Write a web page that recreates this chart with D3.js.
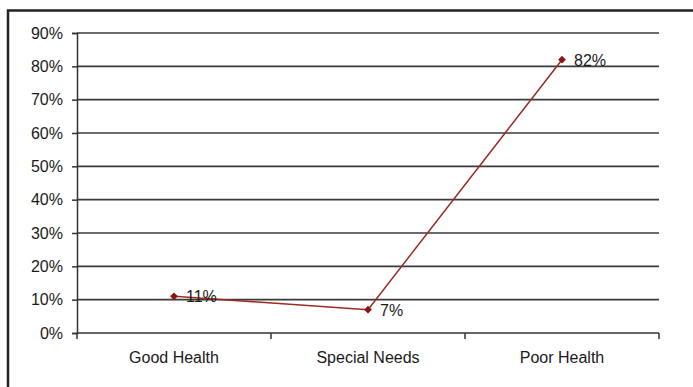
<!DOCTYPE html>
<html>
<head>
<meta charset="utf-8">
<script src="https://cdn.jsdelivr.net/npm/d3@7"></script>
<style>
  html, body { margin: 0; padding: 0; background: #fff; }
  svg { display: block; }
  text { font-family: "Liberation Sans", Arial, sans-serif; fill: #1a1a1a; }
</style>
</head>
<body>
<svg id="chart" width="693" height="387"></svg>
<script>
// Share of respondents by health status
const categories = ["Good Health", "Special Needs", "Poor Health"];
const values = [11, 7, 82];
const yTicks = [0, 10, 20, 30, 40, 50, 60, 70, 80, 90];

const svg = d3.select("#chart");
const W = 693, H = 387;
const margin = { left: 77, right: 34, top: 33, bottom: 54 };
const FS = 16;

// Outer frame, running past the right and bottom edges
svg.append("rect")
  .attr("x", 8).attr("y", 10.5)
  .attr("width", W + 10).attr("height", H + 10)
  .attr("fill", "none").attr("stroke", "#222").attr("stroke-width", 2.5);

const x = d3.scaleBand()
  .domain(categories)
  .range([margin.left, W - margin.right])
  .paddingInner(0).paddingOuter(0);

const y = d3.scaleLinear()
  .domain([0, 90])
  .range([H - margin.bottom, margin.top]);

// Horizontal gridlines
svg.append("g")
  .selectAll("line")
  .data(yTicks.filter(d => d > 0))
  .join("line")
  .attr("x1", margin.left).attr("x2", W - margin.right)
  .attr("y1", d => y(d)).attr("y2", d => y(d))
  .attr("stroke", "#3a3a3a").attr("stroke-width", 1.7);

// Y axis
const yAxis = svg.append("g")
  .attr("transform", `translate(${margin.left},0)`)
  .call(d3.axisLeft(y).tickValues(yTicks).tickFormat(d => d + "%").tickSize(5).tickPadding(9));
yAxis.select(".domain").attr("stroke", "#333").attr("stroke-width", 1.5);
yAxis.selectAll(".tick line").attr("stroke", "#333").attr("stroke-width", 1.5);
yAxis.selectAll(".tick text")
  .attr("font-size", FS).attr("fill", "#1a1a1a")
  .style("font-family", "'Liberation Sans', Arial, sans-serif");

// X axis with ticks at band boundaries
const xAxisG = svg.append("g")
  .attr("transform", `translate(0,${y(0)})`);
xAxisG.append("line")
  .attr("x1", margin.left).attr("x2", W - margin.right)
  .attr("y1", 0).attr("y2", 0)
  .attr("stroke", "#333").attr("stroke-width", 1.5);
const bounds = categories.map(c => x(c)).concat([x(categories[categories.length - 1]) + x.bandwidth()]);
xAxisG.selectAll("line.tk")
  .data(bounds)
  .join("line")
  .attr("class", "tk")
  .attr("x1", d => d).attr("x2", d => d)
  .attr("y1", 0).attr("y2", 6)
  .attr("stroke", "#333").attr("stroke-width", 1.5);
xAxisG.selectAll("text")
  .data(categories)
  .join("text")
  .attr("x", d => x(d) + x.bandwidth() / 2)
  .attr("y", 30)
  .attr("text-anchor", "middle")
  .attr("font-size", FS)
  .text(d => d);

// Series line
const pts = categories.map((c, i) => [x(c) + x.bandwidth() / 2, y(values[i])]);
svg.append("path")
  .attr("d", d3.line()(pts))
  .attr("fill", "none")
  .attr("stroke", "#9b2a22")
  .attr("stroke-width", 1.5);

// Diamond markers (rotated squares)
svg.append("g")
  .selectAll("path")
  .data(pts)
  .join("path")
  .attr("transform", d => `translate(${d[0]},${d[1]}) rotate(45)`)
  .attr("d", d3.symbol(d3.symbolSquare, 30)())
  .attr("fill", "#8b1414");

// Value labels
svg.append("g")
  .selectAll("text")
  .data(pts)
  .join("text")
  .attr("x", d => d[0] + 12)
  .attr("y", d => d[1] + 6)
  .attr("font-size", FS)
  .text((d, i) => values[i] + "%");
</script>
</body>
</html>
